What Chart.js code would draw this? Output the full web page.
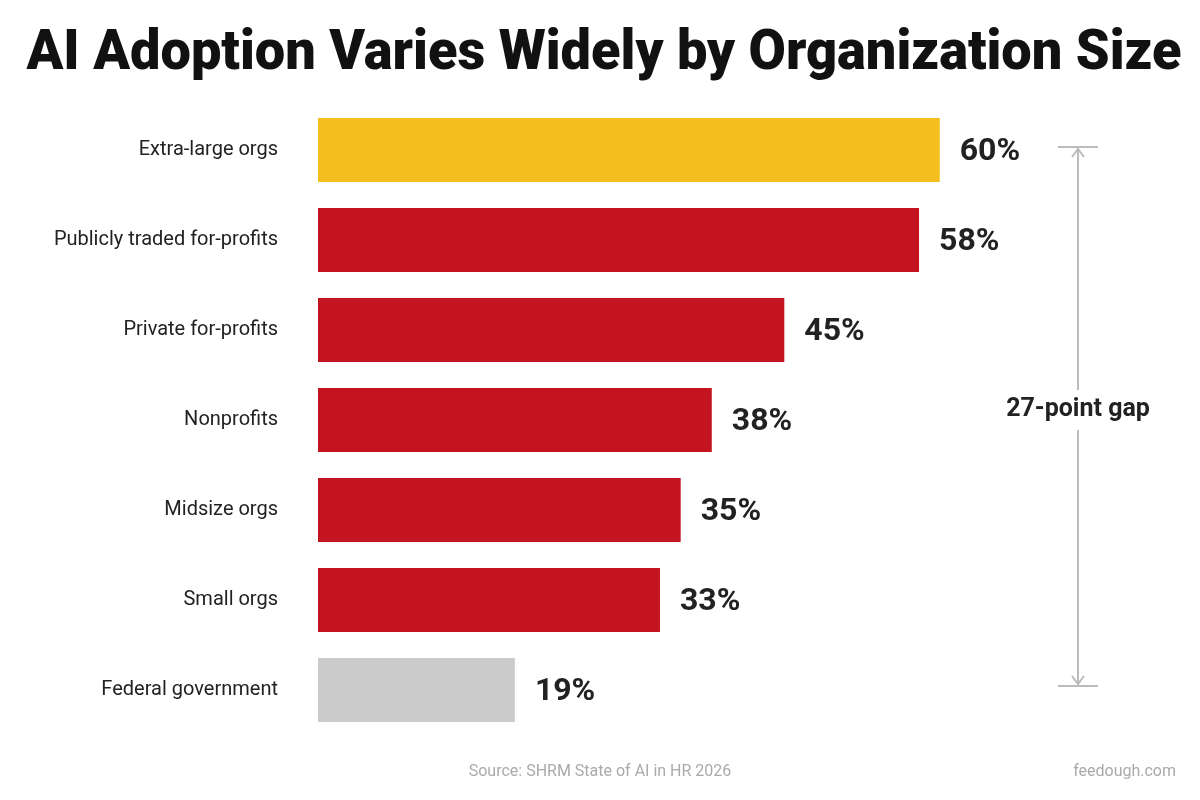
<!DOCTYPE html>
<html>
<head>
<meta charset="utf-8">
<script src="https://cdn.jsdelivr.net/npm/chart.js@4"></script>
<style>
  html, body { margin: 0; padding: 0; background: #fff; }
  #wrap { width: 1200px; height: 800px; }
</style>
</head>
<body>
<div id="wrap"><canvas id="chart"></canvas></div>
<script>
const categories = ["Extra-large orgs", "Publicly traded for-profits", "Private for-profits",
    "Nonprofits", "Midsize orgs", "Small orgs", "Federal government"];
const values = [60, 58, 45, 38, 35, 33, 19];
const barColors = ["#F5BE1F", "#C3141F", "#C3141F", "#C3141F", "#C3141F", "#C3141F", "#CBCBCB"];

// Title, value labels, gap annotation and footer
const extras = {
    id: "extras",
    afterDatasetsDraw(chart) {
        const ctx = chart.ctx;
        const x = chart.scales.x, y = chart.scales.y;
        ctx.save();

        ctx.fillStyle = "#111";
        ctx.font = "900 56px Roboto, 'Liberation Sans', sans-serif";
        ctx.textAlign = "center";
        ctx.textBaseline = "middle";
        ctx.fillText("AI Adoption Varies Widely by Organization Size", 604, 55, 1155);

        ctx.font = "bold 32px Roboto, 'Liberation Sans', sans-serif";
        ctx.textAlign = "left";
        ctx.fillStyle = "#222";
        values.forEach((v, i) => {
            ctx.fillText(v + "%", x.getPixelForValue(v) + 20, y.getPixelForValue(i) + 2);
        });

        // gap bracket
        const gx = 1078;
        const y1 = y.getPixelForValue(0) - 3, y2 = y.getPixelForValue(6) - 4;
        ctx.strokeStyle = "#bbb";
        ctx.lineWidth = 2;
        ctx.beginPath();
        ctx.moveTo(gx - 20, y1); ctx.lineTo(gx + 20, y1);
        ctx.moveTo(gx - 20, y2); ctx.lineTo(gx + 20, y2);
        ctx.moveTo(gx, y1); ctx.lineTo(gx, y2);
        ctx.moveTo(gx - 6, y1 + 10); ctx.lineTo(gx, y1 + 2); ctx.lineTo(gx + 6, y1 + 10);
        ctx.moveTo(gx - 6, y2 - 10); ctx.lineTo(gx, y2 - 2); ctx.lineTo(gx + 6, y2 - 10);
        ctx.stroke();
        ctx.fillStyle = "#fff";
        ctx.fillRect(gx - 90, 390, 180, 40);
        ctx.fillStyle = "#222";
        ctx.font = "bold 25px Roboto, 'Liberation Sans', sans-serif";
        ctx.textAlign = "center";
        ctx.fillText("27-point gap", gx, 410);

        ctx.font = "16px Roboto, 'Liberation Sans', sans-serif";
        ctx.fillStyle = "#aaa";
        ctx.fillText("Source: SHRM State of AI in HR 2026", 600, 772);
        ctx.textAlign = "right";
        ctx.fillText("feedough.com", 1176, 772);
        ctx.restore();
    }
};

new Chart(document.getElementById("chart"), {
    type: "bar",
    data: {
        labels: categories,
        datasets: [{
            data: values,
            backgroundColor: barColors,
            barPercentage: 0.71,
            categoryPercentage: 1
        }]
    },
    options: {
        indexAxis: "y",
        responsive: true,
        maintainAspectRatio: false,
        animation: false,
        layout: { padding: { top: 105, bottom: 65, left: 0, right: 53 } },
        plugins: { legend: { display: false }, tooltip: { enabled: false } },
        scales: {
            x: { min: 0, max: 80, display: false },
            y: {
                grid: { display: false },
                border: { display: false },
                afterFit(scale) { scale.width = 318; },
                ticks: {
                    padding: 32,
                    color: "#222",
                    font: { size: 20, family: "Roboto, 'Liberation Sans', sans-serif" }
                }
            }
        }
    },
    plugins: [extras]
});
</script>
</body>
</html>
